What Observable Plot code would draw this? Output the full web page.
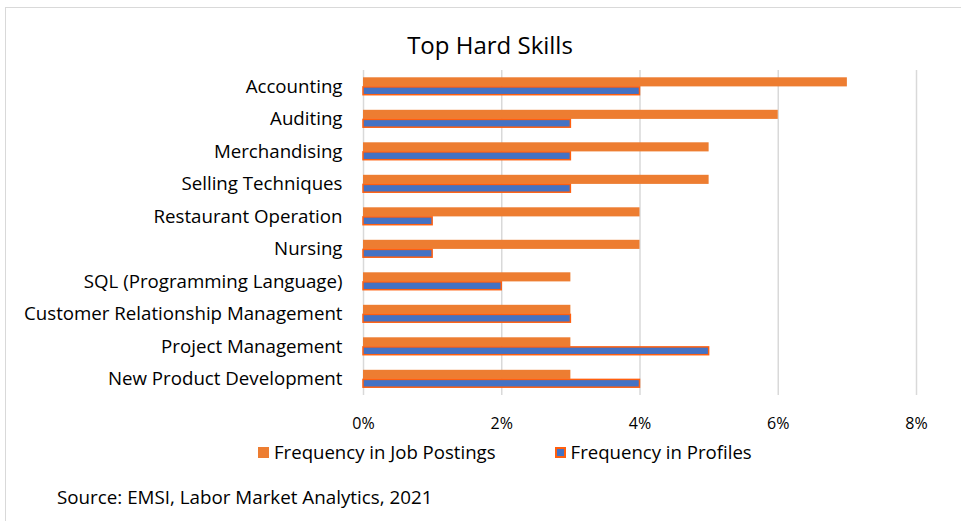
<!DOCTYPE html>
<html><head><meta charset="utf-8">
<script src="https://cdn.jsdelivr.net/npm/d3@7"></script>
<script src="https://cdn.jsdelivr.net/npm/@observablehq/plot@0.6"></script>
<style>
body{margin:0;background:#fff;font-family:"Open Sans",sans-serif;color:#000;}
#page{position:relative;width:961px;height:521px;overflow:hidden;}
#frame{position:absolute;left:5px;top:7px;width:980px;height:540px;border:1.5px solid #d9d9d9;box-sizing:border-box;}
#title{position:absolute;left:0;top:30px;width:980px;text-align:center;font-size:24px;line-height:30px;}
#chart{position:absolute;left:0;top:65px;}
#legend{position:absolute;top:440px;left:258px;font-size:18.6px;line-height:24px;display:flex;align-items:center;white-space:nowrap;}
.sw{display:inline-block;width:11px;height:11px;margin-right:5px;box-sizing:border-box;}
#caption{position:absolute;left:57px;top:485px;font-size:18.8px;line-height:24px;white-space:nowrap;}
</style></head>
<body>
<div id="page">
<div id="frame"></div>
<div id="title">Top Hard Skills</div>
<div id="chart"></div>
<div id="legend"></div>
<div id="caption">Source: EMSI, Labor Market Analytics, 2021</div>
</div>
<script>
const skills = ["Accounting","Auditing","Merchandising","Selling Techniques","Restaurant Operation","Nursing","SQL (Programming Language)","Customer Relationship Management","Project Management","New Product Development"];
const jobPostings = [7,6,5,5,4,4,3,3,3,3];
const profiles = [4,3,3,3,1,1,2,3,5,4];
const xTicks = [0,2,4,6,8];
const seriesNames = ["Frequency in Job Postings","Frequency in Profiles"];
const colors = {job:"#ED7D31", prof:"#4472C4", profStroke:"#FF5F0F"};

const jobData = skills.map((s,i)=>({skill:s, value:jobPostings[i]}));
const profData = skills.map((s,i)=>({skill:s, value:profiles[i]}));

const chart = Plot.plot({
  width: 961,
  height: 375,
  marginLeft: 363,
  marginRight: 45,
  marginTop: 5,
  marginBottom: 45,
  style: {fontFamily: '"Open Sans", sans-serif', fontSize: "16px", color:"#000", background:"transparent"},
  x: {domain:[0,8], label:null},
  y: {domain:skills, padding:0, round:false, label:null},
  marks: [
    Plot.ruleX(xTicks, {stroke:"#d9d9d9", strokeWidth:1.5}),
    Plot.barX(jobData, {y:"skill", x:"value", fill:colors.job, insetTop:7.3, insetBottom:16.1}),
    Plot.barX(profData, {y:"skill", x:"value", fill:colors.prof, stroke:colors.profStroke, strokeWidth:1.5, insetTop:16.9, insetBottom:7.8}),
    Plot.axisX({ticks:xTicks, tickFormat:d=>d+"%", tickSize:0, tickPadding:22, fontSize:16, label:null}),
    Plot.axisY({tickSize:0, tickPadding:21, fontSize:18.7, label:null})
  ]
});
document.getElementById("chart").appendChild(chart);

const legend = document.getElementById("legend");
const items = [
  {name:seriesNames[0], fill:colors.job, stroke:"none", gap:"59px"},
  {name:seriesNames[1], fill:colors.prof, stroke:colors.profStroke, gap:"0"}
];
items.forEach(it=>{
  const sw = document.createElement("span");
  sw.className="sw";
  sw.style.background=it.fill;
  if(it.stroke!=="none") sw.style.border="2px solid "+it.stroke;
  const t = document.createElement("span");
  t.textContent=it.name;
  t.style.marginRight=it.gap;
  legend.appendChild(sw); legend.appendChild(t);
});
</script>
</body></html>
